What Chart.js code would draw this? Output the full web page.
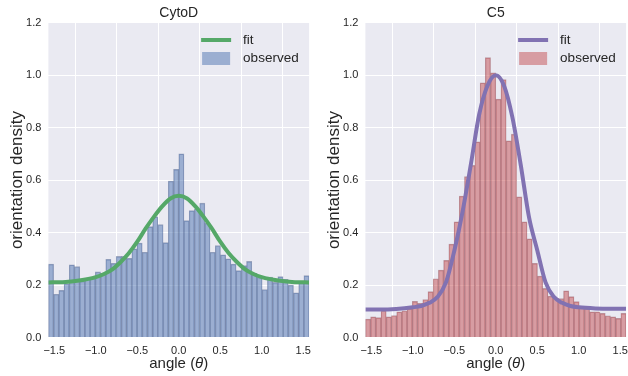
<!DOCTYPE html>
<html>
<head>
<meta charset="utf-8">
<script src="https://cdn.jsdelivr.net/npm/chart.js@4.4.1/dist/chart.umd.min.js"></script>
<style>
  html, body { margin: 0; padding: 0; background: #fff; }
  body { width: 628px; height: 376px; position: relative; overflow: hidden; }
  .panel { position: absolute; top: 0; width: 318px; height: 376px; }
  #leftPanel { left: 0; }
  #rightPanel { left: 317px; }
</style>
</head>
<body>
<div class="panel" id="leftPanel"><canvas id="cytoChart" width="318" height="376"></canvas></div>
<div class="panel" id="rightPanel"><canvas id="c5Chart" width="318" height="376"></canvas></div>
<script>
// histogram: 50 bins over [-pi/2, pi/2]
const HALF_PI = Math.PI / 2;
const binCount = 50;
const binCenters = Array.from({ length: binCount }, (_, i) => -HALF_PI + (i + 0.5) * Math.PI / binCount);

const cytoObserved = [
  0.28, 0.165, 0.18, 0.205, 0.277, 0.27, 0.215, 0.225, 0.23, 0.25,
  0.245, 0.298, 0.283, 0.309, 0.309, 0.302, 0.338, 0.36, 0.325, 0.423,
  0.46, 0.43, 0.362, 0.596, 0.641, 0.70, 0.446, 0.484, 0.49, 0.512,
  0.436, 0.325, 0.35, 0.315, 0.30, 0.28, 0.255, 0.274, 0.29, 0.245,
  0.23, 0.183, 0.23, 0.21, 0.232, 0.222, 0.2, 0.17, 0.21, 0.236
];

const c5Observed = [
  0.07, 0.079, 0.076, 0.102, 0.079, 0.084, 0.098, 0.102, 0.11, 0.138,
  0.13, 0.145, 0.175, 0.224, 0.257, 0.294, 0.356, 0.441, 0.539, 0.613,
  0.656, 0.746, 0.971, 1.067, 1.009, 0.909, 0.983, 0.75, 0.775, 0.536,
  0.441, 0.376, 0.283, 0.234, 0.187, 0.158, 0.15, 0.148, 0.178, 0.156,
  0.137, 0.117, 0.111, 0.098, 0.098, 0.092, 0.083, 0.079, 0.073, 0.092
];

// fitted curves, read at these angles
const fitAngles = [-1.5708, -1.4, -1.2, -1.0, -0.9, -0.8, -0.7, -0.6, -0.5, -0.4, -0.3, -0.2, -0.1, 0,
  0.1, 0.2, 0.3, 0.4, 0.5, 0.6, 0.7, 0.8, 0.9, 1.0, 1.2, 1.4, 1.5708];
const cytoFit = [0.21, 0.211, 0.217, 0.23, 0.242, 0.26, 0.288, 0.322, 0.365, 0.415, 0.46, 0.50, 0.53, 0.54,
  0.53, 0.50, 0.46, 0.415, 0.365, 0.322, 0.288, 0.26, 0.242, 0.23, 0.217, 0.211, 0.21];
const c5Fit = [0.107, 0.107, 0.109, 0.115, 0.12, 0.132, 0.155, 0.21, 0.33, 0.48, 0.66, 0.85, 0.96, 1.0,
  0.96, 0.84, 0.66, 0.46, 0.333, 0.21, 0.155, 0.132, 0.12, 0.115, 0.111, 0.11, 0.11];

const xTicks = [-1.5, -1.0, -0.5, 0.0, 0.5, 1.0, 1.5];
const yTicks = [0, 0.2, 0.4, 0.6, 0.8, 1.0, 1.2];

const FONT = '"Liberation Sans", Arial, sans-serif';
const TEXT = '#262626';

// background, titles, axis labels and legend
const decor = {
  id: 'decor',
  beforeDraw(chart, args, opts) {
    const { ctx, chartArea: a } = chart;
    ctx.save();
    ctx.fillStyle = '#EAEAF2';
    ctx.fillRect(a.left, a.top, a.right - a.left, a.bottom - a.top);
    ctx.restore();
  },
  afterDraw(chart, args, opts) {
    const { ctx, chartArea: a } = chart;
    const cx = (a.left + a.right) / 2;
    ctx.save();
    ctx.fillStyle = TEXT;
    ctx.textBaseline = 'middle';

    // title
    ctx.font = '14px ' + FONT;
    ctx.textAlign = 'center';
    ctx.fillText(opts.title, cx, 13);

    // y label
    ctx.save();
    ctx.translate(17, (a.top + a.bottom) / 2);
    ctx.rotate(-Math.PI / 2);
    ctx.font = '17px ' + FONT;
    ctx.fillText('orientation density', 0, 0);
    ctx.restore();

    // x label with italic theta
    const parts = [['angle (', '15px ' + FONT], ['\u03b8', 'italic 15px ' + FONT], [')', '15px ' + FONT]];
    let total = 0;
    parts.forEach(p => { ctx.font = p[1]; total += ctx.measureText(p[0]).width; });
    let x = cx - total / 2;
    ctx.textAlign = 'left';
    parts.forEach(p => {
      ctx.font = p[1];
      ctx.fillText(p[0], x, 364);
      x += ctx.measureText(p[0]).width;
    });

    // legend
    const lx = a.right - 108;
    ctx.strokeStyle = opts.lineColor;
    ctx.lineWidth = 4;
    ctx.beginPath();
    ctx.moveTo(lx, 40);
    ctx.lineTo(lx + 30, 40);
    ctx.stroke();
    ctx.fillStyle = opts.barColor;
    ctx.fillRect(lx + 1, 52, 28, 13);
    ctx.fillStyle = TEXT;
    ctx.font = '13.5px ' + FONT;
    ctx.fillText('fit', lx + 42, 40);
    ctx.fillText('observed', lx + 42, 58);
    ctx.restore();
  }
};

function fmt(v) {
  return (v < 0 ? '\u2212' : '') + Math.abs(v).toFixed(1);
}

function makeChart(id, title, observed, fit, barColor, edgeColor, lineColor) {
  const ctx = document.getElementById(id).getContext('2d');
  return new Chart(ctx, {
    type: 'bar',
    data: {
      datasets: [
        {
          type: 'line',
          label: 'fit',
          data: fitAngles.map((a, i) => ({ x: a, y: fit[i] })),
          borderColor: lineColor,
          borderWidth: 4,
          pointRadius: 0,
          cubicInterpolationMode: 'monotone',
          fill: false,
          order: 0
        },
        {
          type: 'bar',
          label: 'observed',
          data: binCenters.map((c, i) => ({ x: c, y: observed[i] })),
          backgroundColor: barColor,
          borderColor: edgeColor,
          borderWidth: { left: 0.6, right: 0.6, top: 0.8, bottom: 0 },
          borderSkipped: false,
          barPercentage: 1.0,
          categoryPercentage: 1.0,
          order: 1
        }
      ]
    },
    options: {
      responsive: false,
      devicePixelRatio: 1,
      animation: false,
      layout: { padding: { top: 22.7, left: 0, right: 5, bottom: 0 } },
      plugins: {
        legend: { display: false },
        tooltip: { enabled: false },
        decor: { title: title, barColor: barColor, lineColor: lineColor }
      },
      scales: {
        x: {
          type: 'linear',
          min: -HALF_PI,
          max: HALF_PI,
          offset: false,
          afterBuildTicks: scale => { scale.ticks = xTicks.map(v => ({ value: v })); },
          afterFit: scale => { scale.height = 38.5; },
          ticks: {
            callback: v => fmt(v),
            color: TEXT,
            font: { family: FONT, size: 11 },
            padding: 7,
            maxRotation: 0
          },
          grid: { color: '#ffffff', lineWidth: 1, drawTicks: false },
          border: { display: false }
        },
        y: {
          min: 0,
          max: 1.2,
          afterBuildTicks: scale => { scale.ticks = yTicks.map(v => ({ value: v })); },
          afterFit: scale => { scale.width = 48.4; },
          ticks: {
            callback: v => fmt(v),
            color: TEXT,
            font: { family: FONT, size: 11 },
            padding: 7
          },
          grid: { color: '#ffffff', lineWidth: 1, drawTicks: false },
          border: { display: false }
        }
      }
    },
    plugins: [decor]
  });
}

makeChart('cytoChart', 'CytoD', cytoObserved, cytoFit,
  'rgba(76,114,176,0.5)', 'rgba(60,80,125,0.45)', '#55A868');
makeChart('c5Chart', 'C5', c5Observed, c5Fit,
  'rgba(196,78,82,0.5)', 'rgba(130,60,70,0.45)', '#8172B2');
</script>
</body>
</html>
